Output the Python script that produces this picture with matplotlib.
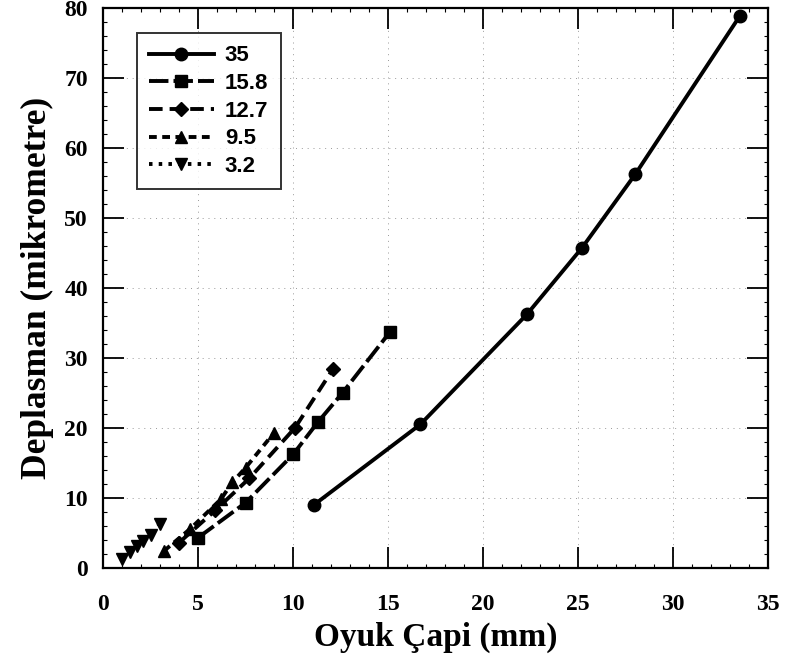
import matplotlib
matplotlib.use("Agg")
import matplotlib.pyplot as plt
from matplotlib.ticker import MultipleLocator

# hole diameter (mm) vs displacement (micrometre) for each plate thickness
x_35 = [11.1, 16.7, 22.3, 25.2, 28.0, 33.5]
y_35 = [9.0, 20.5, 36.2, 45.7, 56.2, 78.8]

x_158 = [5.0, 7.5, 10.0, 11.3, 12.6, 15.1]
y_158 = [4.3, 9.3, 16.2, 20.8, 25.0, 33.7]

x_127 = [4.0, 5.9, 7.7, 10.1, 12.1]
y_127 = [3.6, 8.2, 12.8, 20.0, 28.4]

x_95 = [3.2, 4.6, 6.2, 6.8, 7.5, 9.0]
y_95 = [2.4, 5.6, 9.8, 12.2, 14.3, 19.3]

x_32 = [1.0, 1.4, 1.8, 2.1, 2.5, 3.0]
y_32 = [1.3, 2.3, 3.1, 3.8, 4.7, 6.3]

fig = plt.figure(figsize=(7.87, 6.61), dpi=100)
ax = fig.add_axes([0.131, 0.141, 0.845, 0.847])

lw = 2.8
ax.plot(x_35, y_35, color='black', lw=lw, marker='o', ms=9, label='35')
ax.plot(x_158, y_158, color='black', lw=lw, marker='s', ms=9,
        dashes=(5, 1.3), label='15.8')
ax.plot(x_127, y_127, color='black', lw=lw, marker='D', ms=7.5,
        dashes=(3.5, 1.8), label='12.7')
ax.plot(x_95, y_95, color='black', lw=lw, marker='^', ms=9,
        dashes=(2.0, 1.4), label='9.5')
ax.plot(x_32, y_32, color='black', lw=lw, marker='v', ms=9,
        dashes=(0.9, 1.6), label='3.2')

ax.set_xlim(0, 35)
ax.set_ylim(0, 80)
ax.xaxis.set_major_locator(MultipleLocator(5))
ax.xaxis.set_minor_locator(MultipleLocator(1))
ax.yaxis.set_major_locator(MultipleLocator(10))
ax.yaxis.set_minor_locator(MultipleLocator(2))
ax.tick_params(which='major', direction='in', length=15, width=1.3,
               top=True, right=True)
ax.tick_params(axis='x', which='major', pad=19)
ax.tick_params(axis='y', which='major', pad=11)
ax.tick_params(which='minor', direction='in', length=3, width=0.8,
               top=True, right=True)
for sp in ax.spines.values():
    sp.set_linewidth(1.6)

ax.grid(True, which='major', color='0.6', linestyle=(0, (1, 5)), lw=0.7)

for lab in ax.get_xticklabels() + ax.get_yticklabels():
    lab.set_fontfamily('Liberation Serif')
    lab.set_fontweight('bold')
    lab.set_fontsize(17)

ax.set_xlabel('Oyuk Çapi (mm)', family='Liberation Serif', weight='bold',
              size=24, labelpad=5)
ax.set_ylabel('Deplasman (mikrometre)', family='Liberation Serif',
              weight='bold', size=25.5, labelpad=7)

leg = ax.legend(loc='upper left', bbox_to_anchor=(0.051, 0.955),
                handlelength=2.9, handletextpad=0.5, labelspacing=0.3,
                borderpad=0.55, borderaxespad=0, frameon=True, fancybox=False,
                edgecolor='black',
                prop=dict(family='Liberation Sans', weight='bold', size=16))
leg.get_frame().set_linewidth(1.4)

fig.savefig('out.png', dpi=100)
